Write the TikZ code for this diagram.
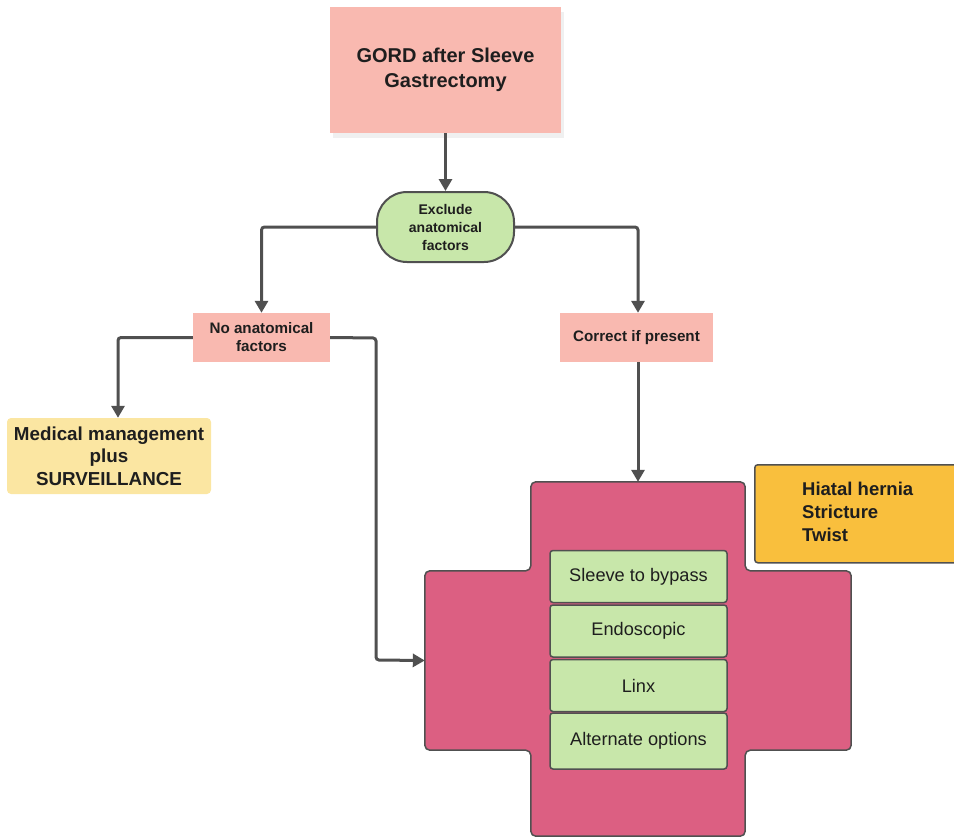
\documentclass[tikz,border=0pt]{standalone}
\usepackage{fontspec}
\setmainfont{Liberation Sans}
\usetikzlibrary{arrows.meta,shadows}
\definecolor{salmon}{HTML}{F9B9B0}
\definecolor{lgreen}{HTML}{C8E7AA}
\definecolor{lyellow}{HTML}{FBE6A2}
\definecolor{crosspink}{HTML}{DC5F82}
\definecolor{orangebox}{HTML}{F9BF3D}
\definecolor{edgegray}{HTML}{505050}
\definecolor{txt}{HTML}{1E1E1E}
\tikzset{
  conn/.style={draw=edgegray, line width=3pt, rounded corners=3pt, -{Triangle[length=12pt,width=13pt]}},
  salmonbox/.style={fill=salmon, draw=none, inner sep=0pt, align=center, text=txt, font=\bfseries},
  greenbox/.style={fill=lgreen, draw=edgegray, line width=1.5pt, rounded corners=3pt, minimum width=177pt, minimum height=52pt, inner sep=0pt, font=\fontsize{18.2}{21}\selectfont, text=txt},
  ghost/.style={draw=none, inner sep=0pt}
}
\begin{document}
\begin{tikzpicture}[x=1pt,y=-1pt]
\useasboundingbox (0,0) rectangle (954,838);
% top box
\node[salmonbox, minimum width=231pt, minimum height=126pt, font=\bfseries\fontsize{20}{25}\selectfont,
      drop shadow={shadow xshift=3pt, shadow yshift=-5pt, opacity=0.12}] (gord) at (445.5,70) {GORD after Sleeve\\Gastrectomy};
% exclude
\node[fill=lgreen, draw=edgegray, line width=2pt, rounded corners=30pt, minimum width=137pt, minimum height=70pt, inner sep=0pt,
      align=center, text=txt, font=\bfseries\fontsize{14}{18}\selectfont] (excl) at (445.5,227) {Exclude\\anatomical\\factors};
% second level
\node[salmonbox, minimum width=137pt, minimum height=49pt, font=\bfseries\fontsize{15.2}{18}\selectfont] (noanat) at (261.5,337.5) {No anatomical\\factors};
\node[salmonbox, minimum width=153pt, minimum height=49pt, font=\bfseries\fontsize{15.2}{18}\selectfont] (corr) at (636.5,337.5) {Correct if present};
% medical
\node[fill=lyellow, draw=none, rounded corners=4pt, minimum width=204pt, minimum height=76pt, inner sep=0pt, align=center, text=txt,
      font=\bfseries\fontsize{18.8}{22.5}\selectfont] (med) at (109,456) {Medical management\\plus\\SURVEILLANCE};
% orange box
\node[fill=orangebox, draw=edgegray, line width=1.5pt, rounded corners=3pt, minimum width=206pt, minimum height=98pt, inner sep=0pt,
      anchor=north west] (hiatal) at (754,464) {};
\node[ghost, anchor=west, align=left, text=txt, font=\bfseries\fontsize{18.5}{23}\selectfont] (hiataltxt) at (802,512) {Hiatal hernia\\Stricture\\Twist};
% cross frame (ghost nodes)
\node[ghost, minimum width=214pt, minimum height=354pt] (vbar) at (638,659) {};
\node[ghost, minimum width=426pt, minimum height=179pt] (hbar) at (638,660.5) {};
\draw[fill=crosspink, draw=edgegray, line width=1.5pt, rounded corners=5pt]
  (vbar.north west) -- (vbar.north east) -- (vbar.east |- hbar.north) -- (hbar.north east) -- (hbar.south east)
  -- (vbar.east |- hbar.south) -- (vbar.south east) -- (vbar.south west) -- (vbar.west |- hbar.south)
  -- (hbar.south west) -- (hbar.north west) -- (vbar.west |- hbar.north) -- cycle;
% green stack
\node[greenbox] (g1) at (638.5,576.5) {Sleeve to bypass};
\node[greenbox] (g2) at (638.5,631) {Endoscopic};
\node[greenbox] (g3) at (638.5,685.5) {Linx};
\node[greenbox, minimum height=56pt] (g4) at (638.5,741) {Alternate options};
% connectors
\draw[conn] (gord.south) -- (excl.north);
\draw[conn] (excl.west) -| (noanat.north);
\draw[conn] (excl.east) -| (vbar.north |- corr.north);
\draw[conn] (noanat.west) -| ([xshift=9pt]med.north);
\draw[conn] (noanat.east) -- (376,338) -- (376,660) -- (hbar.west);
\draw[conn] (vbar.north |- corr.south) -- (vbar.north);
\end{tikzpicture}
\end{document}
